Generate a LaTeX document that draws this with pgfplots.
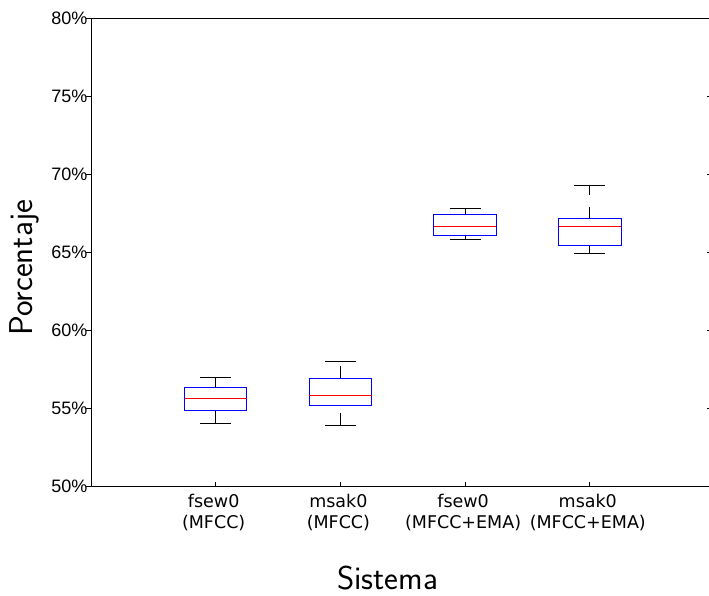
\documentclass[border=0pt]{standalone}
\usepackage{fontspec}
\usepackage{pgfplots}
\pgfplotsset{compat=1.18}
\newfontfamily\ytfont{Liberation Sans}
\newfontfamily\xtfont{DejaVu Sans}
\pgfplotsset{
  boxln/.style={blue, line width=0.9pt, line join=miter},
  medln/.style={red, line width=0.9pt},
  whisk/.style={black, line width=0.9pt, dash pattern=on 12pt off 12pt},
  capln/.style={black, line width=0.9pt},
}
\begin{document}
\begin{tikzpicture}
\begin{axis}[
  at={(0,0)}, anchor=south west,
  scale only axis, width=619pt, height=468pt,
  xmin=0, xmax=4.964, ymin=50, ymax=80,
  xtick={1,2,3,4},
  xticklabels={{fsew0\\(MFCC)},{msak0\\(MFCC)},{fsew0\\(MFCC+EMA)},{msak0\\(MFCC+EMA)}},
  xticklabel style={align=center, font=\xtfont\fontsize{17.5}{20.5}\selectfont, yshift=-5pt, xshift=-2pt},
  ytick={50,55,60,65,70,75,80},
  yticklabels={50\%,55\%,60\%,65\%,70\%,75\%,80\%},
  yticklabel style={font=\ytfont\fontsize{18}{21}\selectfont},
  tick align=inside,
  xtick pos=bottom, ytick pos=left,
  major tick length=4.5pt,
  y tick style={xshift=-4.5pt},
  tick style={black, line width=0.8pt},
  axis line style={line width=0.9pt},
  xlabel={Sistema}, ylabel={Porcentaje},
  label style={font=\sffamily\fontsize{33}{40}\selectfont},
  xlabel style={at={(axis description cs:0.479,-0.197)}, anchor=center},
  ylabel style={at={(axis description cs:-0.107,0.466)}, anchor=center},
]
% box 1: fsew0 (MFCC)
\addplot[boxln] coordinates {(0.75,54.83) (1.25,54.83) (1.25,56.30) (0.75,56.30) (0.75,54.83)};
\addplot[medln] coordinates {(0.75,55.64) (1.25,55.64)};
\addplot[whisk] coordinates {(1,54.02) (1,54.83)};
\addplot[whisk] coordinates {(1,56.30) (1,56.97)};
\addplot[capln] coordinates {(0.875,54.02) (1.125,54.02)};
\addplot[capln] coordinates {(0.875,56.97) (1.125,56.97)};
% box 2: msak0 (MFCC)
\addplot[boxln] coordinates {(1.75,55.19) (2.25,55.19) (2.25,56.92) (1.75,56.92) (1.75,55.19)};
\addplot[medln] coordinates {(1.75,55.83) (2.25,55.83)};
\addplot[whisk] coordinates {(2,53.89) (2,55.19)};
\addplot[whisk] coordinates {(2,56.92) (2,57.97)};
\addplot[capln] coordinates {(1.875,53.89) (2.125,53.89)};
\addplot[capln] coordinates {(1.875,57.97) (2.125,57.97)};
% box 3: fsew0 (MFCC+EMA)
\addplot[boxln] coordinates {(2.75,66.04) (3.25,66.04) (3.25,67.42) (2.75,67.42) (2.75,66.04)};
\addplot[medln] coordinates {(2.75,66.62) (3.25,66.62)};
\addplot[whisk] coordinates {(3,65.83) (3,66.04)};
\addplot[whisk] coordinates {(3,67.42) (3,67.80)};
\addplot[capln] coordinates {(2.875,65.83) (3.125,65.83)};
\addplot[capln] coordinates {(2.875,67.80) (3.125,67.80)};
% box 4: msak0 (MFCC+EMA)
\addplot[boxln] coordinates {(3.75,65.40) (4.25,65.40) (4.25,67.12) (3.75,67.12) (3.75,65.40)};
\addplot[medln] coordinates {(3.75,66.65) (4.25,66.65)};
\addplot[whisk] coordinates {(4,64.92) (4,65.40)};
\addplot[whisk] coordinates {(4,67.12) (4,69.25)};
\addplot[capln] coordinates {(3.875,64.92) (4.125,64.92)};
\addplot[capln] coordinates {(3.875,69.25) (4.125,69.25)};
\end{axis}
\begin{axis}[
  at={(0,0)}, anchor=south west,
  scale only axis, width=619pt, height=468pt,
  xmin=0, xmax=4.964, ymin=50, ymax=80,
  axis line style={draw=none},
  xtick=\empty, ytick={55,60,65,70,75}, yticklabels={},
  ytick pos=right, tick align=inside, major tick length=3.5pt,
  tick style={black, line width=0.8pt},
]
\end{axis}
\pgfresetboundingbox
\path[use as bounding box] (-91pt,-109pt) rectangle (618pt,486pt);
\end{tikzpicture}
\end{document}
